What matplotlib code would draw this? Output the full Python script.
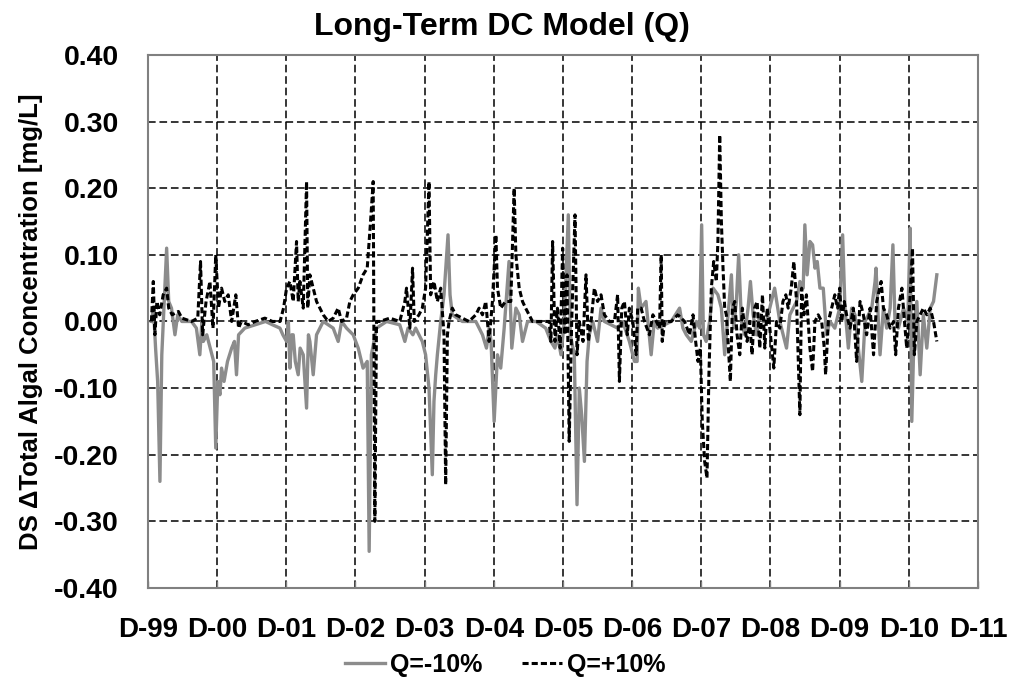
import numpy as np
import matplotlib
matplotlib.use("Agg")
import matplotlib.pyplot as plt

# years after Dec-1999 (D-99 = 0, D-11 = 12)
t_minus = [0.05, 0.08, 0.11, 0.14, 0.173, 0.20, 0.23, 0.27, 0.30, 0.34, 0.39, 0.43, 0.49, 0.63, 0.70,
           0.75, 0.78, 0.80, 0.85, 0.90, 0.95, 0.98, 1.01, 1.04, 1.064, 1.10, 1.15, 1.21, 1.25, 1.28,
           1.31, 1.40, 1.55, 1.70, 1.80, 1.908, 1.95, 2.004, 2.03, 2.052, 2.08, 2.10, 2.13, 2.172, 2.20,
           2.245, 2.293, 2.32, 2.341, 2.389, 2.437, 2.534, 2.606, 2.678, 2.75, 2.80, 2.871, 2.967, 3.04,
           3.11, 3.17, 3.198, 3.23, 3.304, 3.45, 3.64, 3.714, 3.76, 3.83,
           3.87, 3.918, 3.966, 4.014, 4.063, 4.111, 4.135, 4.16, 4.184, 4.232, 4.28, 4.338, 4.367, 4.40,
           4.546, 4.74, 4.836, 4.894, 4.932, 4.96, 5.005, 5.053, 5.10, 5.15, 5.22, 5.26, 5.319, 5.367,
           5.415, 5.488, 5.61, 5.75,
           5.826, 5.884, 5.92, 5.971, 6.019, 6.077, 6.106, 6.164, 6.203, 6.236, 6.27, 6.31, 6.348, 6.38,
           6.43, 6.50, 6.55, 6.599, 6.79, 6.864, 6.96, 7.034, 7.072, 7.09, 7.13, 7.2, 7.275, 7.32, 7.37,
           7.565, 7.686, 7.734,
           7.783, 7.855, 7.93, 7.976, 8.005, 8.03, 8.07, 8.12, 8.17, 8.24, 8.29, 8.338, 8.386, 8.435,
           8.467, 8.507, 8.54, 8.58, 8.628, 8.676, 8.71, 8.749, 8.797, 8.845, 8.894, 8.942, 9.06, 9.135,
           9.232, 9.28, 9.377, 9.425, 9.473, 9.497, 9.53, 9.57, 9.609, 9.643, 9.676, 9.715,
           9.763, 9.81, 9.86, 9.93, 10.0, 10.043, 10.077, 10.126, 10.174, 10.222, 10.26, 10.32, 10.367,
           10.415, 10.464, 10.512, 10.526, 10.56, 10.584, 10.633, 10.68, 10.73, 10.77, 10.8, 10.85,
           10.923, 10.985, 11.02, 11.043, 11.08, 11.116, 11.164, 11.21, 11.26, 11.31, 11.357, 11.405]
q_minus = [0.0, 0.02, -0.04, -0.09, -0.24, -0.05, 0.02, 0.11, 0.03, 0.02, -0.02, 0.01, 0.0, 0.0, -0.01,
           -0.05, 0.0, -0.03, -0.02, -0.04, -0.06, -0.19, -0.09, -0.11, -0.07, -0.09, -0.06, -0.04, -0.03, -0.08,
           -0.02, -0.01, -0.005, 0.0, -0.005, -0.01, -0.02, -0.03, 0.0, -0.07, -0.02, -0.02, -0.06, -0.08, -0.04,
           -0.05, -0.13, -0.02, -0.03, -0.08, -0.02, 0.0, -0.005, -0.01, -0.03, 0.0, -0.01, -0.02, -0.04,
           -0.07, -0.06, -0.345, -0.05, -0.01, 0.0, -0.005, -0.03, -0.01, -0.02,
           -0.01, -0.02, -0.03, -0.05, -0.10, -0.23, -0.12, -0.08, -0.05, 0.0, 0.04, 0.13, 0.04, 0.01,
           0.0, 0.0, -0.02, -0.04, -0.01, -0.03, -0.15, -0.05, -0.07, -0.01, 0.09, -0.04, 0.02, 0.01,
           -0.03, 0.0, 0.0, -0.01,
           -0.03, -0.04, -0.02, -0.05, 0.0, 0.16, -0.02, -0.05, -0.275, -0.10, -0.14, -0.21, -0.06, -0.02,
           0.0, -0.03, 0.02, 0.0, -0.01, 0.0, -0.03, -0.06, -0.06, 0.05, 0.02, 0.03, -0.05, 0.0, -0.01,
           0.0, 0.02, -0.01,
           -0.02, -0.03, 0.0, -0.01, 0.145, -0.02, -0.03, 0.0, 0.05, 0.04, 0.02, -0.05, 0.01, 0.07,
           -0.01, 0.03, 0.10, 0.0, -0.02, 0.02, 0.06, 0.01, -0.02, 0.01, 0.0, 0.0, 0.05, 0.0,
           -0.04, 0.01, 0.03, 0.06, 0.05, 0.145, 0.07, 0.12, 0.115, 0.08, 0.09, 0.05,
           0.05, -0.02, 0.0, -0.01, 0.02, 0.13, 0.02, -0.04, 0.02, 0.01, -0.03, -0.09, 0.0,
           0.01, 0.02, 0.06, 0.08, 0.0, -0.05, 0.02, -0.01, 0.02, 0.115, 0.0, -0.01,
           0.02, 0.0, 0.14, -0.15, 0.0, 0.03, -0.08, 0.01, -0.04, 0.02, 0.03, 0.07]

t_plus = [0.05, 0.077, 0.10, 0.13, 0.17, 0.22, 0.27, 0.30, 0.35, 0.44, 0.49, 0.63, 0.72, 0.76, 0.79,
          0.84, 0.896, 0.94, 0.98, 1.02, 1.064, 1.11, 1.16, 1.21, 1.27, 1.31, 1.35, 1.45, 1.55, 1.69,
          1.80, 1.91, 1.96, 2.004, 2.052, 2.10, 2.148, 2.172, 2.197, 2.245, 2.293, 2.31, 2.341, 2.389,
          2.437, 2.486, 2.534, 2.606, 2.678, 2.75, 2.799, 2.871, 2.919, 2.967, 3.04, 3.11, 3.17, 3.218,
          3.256, 3.28, 3.304, 3.35, 3.497, 3.64, 3.714, 3.738, 3.786, 3.825, 3.85,
          3.918, 3.966, 4.014, 4.063, 4.087, 4.135, 4.184, 4.232, 4.28, 4.304, 4.329, 4.353, 4.40, 4.45,
          4.546, 4.64, 4.74, 4.787, 4.836, 4.884, 4.932, 4.98, 5.03, 5.053, 5.10, 5.17, 5.246, 5.294,
          5.319, 5.367, 5.415, 5.46, 5.51, 5.56, 5.705, 5.80, 5.826,
          5.85, 5.884, 5.92, 5.96, 5.995, 6.029, 6.058, 6.09, 6.126, 6.174, 6.203, 6.236, 6.29, 6.333,
          6.367, 6.406, 6.454, 6.50, 6.55, 6.599, 6.67, 6.744, 6.79, 6.816, 6.85, 6.888, 6.93, 6.96,
          7.01, 7.058, 7.08, 7.13, 7.178, 7.25, 7.3, 7.35, 7.396, 7.42, 7.435, 7.47, 7.565, 7.66, 7.758,
          7.83, 7.88, 7.918, 7.952, 7.986, 8.014, 8.048, 8.082, 8.11, 8.145, 8.179, 8.217, 8.24, 8.266,
          8.29, 8.314, 8.338, 8.362, 8.386, 8.42, 8.449, 8.483, 8.517, 8.556, 8.594, 8.628, 8.662, 8.70,
          8.734, 8.77, 8.807, 8.845, 8.884, 8.918, 8.952, 8.99, 9.048, 9.087, 9.135, 9.18, 9.222, 9.256,
          9.3, 9.338, 9.377, 9.425, 9.45, 9.483, 9.52, 9.57, 9.609, 9.643, 9.69, 9.74,
          9.778, 9.797, 9.836, 9.884, 9.93, 9.97, 10.0, 10.03, 10.067, 10.1, 10.15, 10.198, 10.246,
          10.295, 10.343, 10.39, 10.44, 10.49, 10.536, 10.6, 10.633, 10.68, 10.73, 10.78, 10.81, 10.85,
          10.9, 10.937, 10.97, 11.02, 11.053, 11.08, 11.116, 11.164, 11.21, 11.26, 11.31, 11.357, 11.405]
q_plus = [0.0, 0.06, -0.02, 0.03, 0.01, 0.04, 0.05, 0.02, 0.01, 0.015, 0.005, 0.0, 0.005, 0.09, -0.02,
          0.03, 0.06, -0.01, 0.10, 0.02, 0.05, 0.03, 0.04, 0.0, 0.04, -0.01, 0.0, -0.005, 0.0, 0.005,
          0.0, 0.0, 0.02, 0.05, 0.06, 0.03, 0.12, 0.03, 0.06, 0.02, 0.21, 0.02, 0.07, 0.05,
          0.03, 0.02, 0.01, 0.0, 0.005, 0.02, 0.0, 0.005, 0.03, 0.04, 0.05, 0.07, 0.08, 0.15,
          0.21, -0.30, 0.0, 0.0, 0.005, 0.0, 0.03, 0.05, -0.01, 0.08, 0.0,
          0.01, 0.02, 0.05, 0.21, 0.04, 0.06, 0.03, 0.05, -0.02, -0.245, -0.02, 0.0, 0.02, 0.01,
          0.005, 0.0, 0.01, 0.02, 0.01, 0.03, -0.03, 0.03, 0.13, 0.05, 0.02, 0.03, 0.03, 0.20,
          0.10, 0.05, 0.03, 0.02, 0.01, 0.0, 0.0, 0.0, -0.03,
          0.12, -0.03, 0.02, -0.04, 0.11, -0.02, 0.07, -0.18, 0.0, 0.16, -0.05, 0.0, -0.03, 0.07,
          -0.03, 0.0, 0.05, 0.03, 0.04, 0.01, 0.0, 0.0, 0.04, -0.09, 0.02, 0.03, -0.02, 0.02,
          0.0, -0.05, 0.02, 0.02, 0.0, -0.02, 0.01, 0.0, -0.01, 0.10, -0.03, 0.0, 0.0, 0.01, 0.0,
          -0.02, 0.01, -0.03, -0.06, -0.04, -0.15, -0.21, -0.235, -0.08, 0.05, 0.09, 0.06, 0.12, 0.28,
          0.15, 0.08, 0.02, 0.01, -0.03, -0.09, 0.02, 0.03, -0.02, -0.05, 0.02, -0.01, -0.03, 0.0,
          -0.05, 0.02, 0.03, -0.04, 0.04, -0.04, 0.02, -0.01, -0.07, 0.0, -0.01, 0.03, 0.04, 0.02,
          0.05, 0.09, 0.03, -0.14, 0.05, 0.01, 0.04, -0.04, -0.075, 0.0, 0.01, 0.0,
          -0.04, -0.08, 0.0, 0.02, 0.04, 0.02, 0.05, 0.0, 0.03, 0.01, -0.01, 0.02, -0.06,
          0.03, 0.01, -0.02, 0.02, -0.05, 0.03, 0.06, 0.02, 0.01, -0.01, 0.0, -0.05, 0.02,
          0.05, 0.0, -0.04, 0.04, 0.11, -0.05, 0.0, 0.01, 0.02, 0.01, 0.02, 0.0, -0.03]

tick_labels = ["D-99", "D-00", "D-01", "D-02", "D-03", "D-04", "D-05", "D-06",
               "D-07", "D-08", "D-09", "D-10", "D-11"]
y_ticks = [-0.4, -0.3, -0.2, -0.1, 0.0, 0.1, 0.2, 0.3, 0.4]

plt.rcParams['font.family'] = ['Liberation Sans', 'DejaVu Sans']
plt.rcParams['font.weight'] = 'bold'

fig = plt.figure(figsize=(10.1, 6.86), dpi=100)
ax = fig.add_axes([0.1465, 0.1429, 0.8218, 0.777])

ax.plot(t_minus, q_minus, color='#8c8c8c', lw=2.4, label='Q=-10%', zorder=3)
ax.plot(t_plus, q_plus, color='black', lw=2.2, linestyle=(0, (2.0, 1.0)), label='Q=+10%', zorder=4)

ax.set_xlim(0, 12)
ax.set_ylim(-0.4, 0.4)
ax.set_xticks(range(13))
ax.set_xticklabels(tick_labels)
ax.set_yticks(y_ticks)
ax.set_yticklabels([f"{v:.2f}" for v in y_ticks])
ax.tick_params(axis='x', direction='in', length=5, width=1, color='#808080', labelsize=20, pad=21)
ax.tick_params(axis='y', length=0, labelsize=20.5, pad=21)
for lab in ax.get_xticklabels() + ax.get_yticklabels():
    lab.set_fontweight('bold')

ax.grid(True, color='black', lw=1.1, linestyle=(0, (5, 2.5)), zorder=1)
ax.set_axisbelow(True)
for s in ax.spines.values():
    s.set_color('#808080')
    s.set_linewidth(1.5)

ax.set_ylabel("DS \u0394Total Algal Concentration [mg/L]", fontsize=18.5, fontweight='bold', labelpad=8)
fig.text(0.497, 1 - 27 / 686, "Long-Term DC Model (Q)", ha='center', va='center',
         fontsize=23, fontweight='bold')

fig.legend(loc='center', bbox_to_anchor=(0.5, 1 - 665 / 686), ncol=2, frameon=False,
           handlelength=1.6, handletextpad=0.2, columnspacing=1.6,
           prop={'weight': 'bold', 'size': 18})

fig.savefig("out.png", dpi=100)
